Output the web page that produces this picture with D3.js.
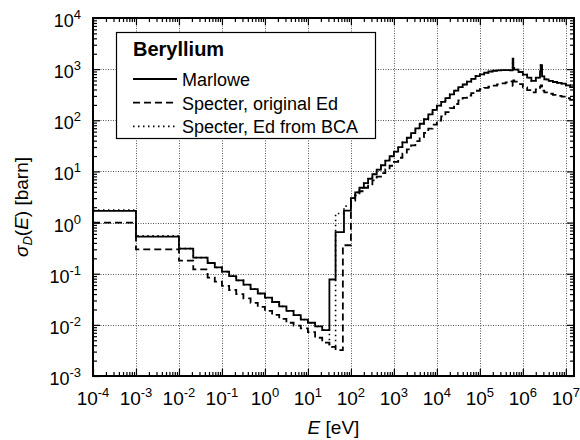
<!DOCTYPE html>
<html>
<head>
<meta charset="utf-8">
<script src="https://cdn.jsdelivr.net/npm/d3@7/dist/d3.min.js"></script>
<style>
    body { margin: 0; background: #fff; }
    svg { font-family: "Liberation Sans", Arial, sans-serif; }
</style>
</head>
<body>
<svg id="svgBeryllium" width="580" height="440"></svg>
<script>
// bin edges in eV, below the threshold (shared by all three curves)
var lowEdges = [1e-4, 1e-3, 1e-2, 0.0215, 0.0464, 0.0681, 0.1, 0.147, 0.215, 0.316, 0.464,
    0.681, 1, 1.47, 2.15, 3.16, 4.64, 6.81, 10, 14.7, 21.5, 31.6];
// bin edges in eV, from 100 eV upwards
var highEdges = [100, 126, 158, 200, 251, 316, 398, 501, 631, 794,
    1000, 1260, 1580, 2000, 2510, 3160, 3980, 5010, 6310, 7940,
    1e4, 1.26e4, 1.58e4, 2e4, 2.51e4, 3.16e4, 3.98e4, 5.01e4, 6.31e4, 7.94e4,
    1e5, 1.26e5, 1.58e5, 2e5, 2.51e5, 3.16e5, 3.98e5, 5.01e5, 5.8e5, 6.0e5,
    6.31e5, 7.94e5, 1e6, 1.26e6, 1.58e6, 2e6, 2.51e6, 2.6e6, 2.8e6, 3.16e6,
    3.98e6, 5.01e6, 6.31e6, 7.94e6, 1e7, 1.26e7, 1.6e7];

// Marlowe
var marloweLow = [1.7, 0.53, 0.31, 0.206, 0.162, 0.133, 0.110, 0.090, 0.074, 0.061, 0.050,
    0.041, 0.034, 0.028, 0.023, 0.0188, 0.0155, 0.0127, 0.011, 0.0093, 0.0079];
var marloweKneeEdges = [44, 69];
var marloweKnee = [0.077, 0.65, 1.72];
var marloweHigh = [3.0, 3.9, 4.8, 5.9, 7.2, 8.8, 10.8, 13.2, 16.2, 19.8,
    24.3, 30.0, 37.0, 45.6, 56.2, 69.3, 85.5, 105, 130, 160,
    194, 229, 272, 322, 381, 447, 501, 569, 646, 730,
    790, 850, 900, 930, 950, 955, 955, 950, 1600, 1050,
    980, 880, 780, 680, 590, 680, 900, 1200, 720, 630,
    590, 560, 540, 520, 480, 445];

// Specter, original Ed
var specterLow = [1.0, 0.30, 0.18, 0.122, 0.084, 0.070, 0.058, 0.048, 0.040, 0.033, 0.027,
    0.0225, 0.0188, 0.0157, 0.0131, 0.0110, 0.0097, 0.0085, 0.0072, 0.0056, 0.0045];
var specterKneeEdges = [44, 65];
var specterKnee = [0.0037, 0.0032, 0.36];
var specterHigh = [2.7, 3.4, 4.1, 4.8, 5.6, 6.7, 7.9, 9.3, 10.9, 12.9,
    15.4, 18.5, 22.3, 26.9, 32.4, 39.1, 47.1, 56.8, 68.4, 82.4,
    99, 119, 144, 173, 208, 245, 274, 305, 340, 378,
    408, 430, 453, 477, 502, 525, 550, 575, 470, 600,
    570, 510, 440, 390, 350, 400, 450, 480, 380, 350,
    330, 315, 300, 290, 270, 250];

// Specter, Ed from BCA (same as Marlowe above 100 eV)
var bcaLow = [1.75, 0.55, 0.31, 0.206, 0.162, 0.133, 0.110, 0.090, 0.074, 0.061, 0.050,
    0.041, 0.034, 0.028, 0.023, 0.0188, 0.0155, 0.0127, 0.011, 0.0093, 0.0079];
var bcaKneeEdges = [44, 69];
var bcaKnee = [0.0037, 1.5, 2.1];
var bcaHigh = marloweHigh;

var legendNames = ["Marlowe", "Specter, original Ed", "Specter, Ed from BCA"];
var xDecades = [-4, -3, -2, -1, 0, 1, 2, 3, 4, 5, 6, 7];
var yDecades = [-3, -2, -1, 0, 1, 2, 3, 4];

function stepPoints(knee, kneeVals, low, high) {
    var edges = lowEdges.concat(knee, highEdges);
    var vals = low.concat(kneeVals, high);
    var pts = vals.map(function (v, i) { return [edges[i], v]; });
    pts.push([edges[vals.length], vals[vals.length - 1]]);
    return pts;
}

/**
 * Beryllium displacement cross section
 */
function createBerylliumChart() {
    var svg = d3.select("#svgBeryllium"),
        margin = {top: 18, right: 6, bottom: 64, left: 93},
        width = svg.attr("width") - margin.left - margin.right,
        height = svg.attr("height") - margin.top - margin.bottom,
        g = svg.append("g").attr("transform", "translate(" + margin.left + "," + margin.top + ")");

    var x = d3.scaleLog()
        .domain([1e-4, 1.55e7])
        .range([0, width]);

    var y = d3.scaleLog()
        .domain([1e-3, 1e4])
        .range([height, 0]);

    var minorX = [], minorY = [];
    xDecades.forEach(function (d) {
        for (var k = 2; k < 10; k++) {
            var v = k * Math.pow(10, d);
            if (v < x.domain()[1]) minorX.push(v);
        }
    });
    yDecades.slice(0, -1).forEach(function (d) {
        for (var k = 2; k < 10; k++) minorY.push(k * Math.pow(10, d));
    });
    var majorX = xDecades.map(function (d) { return Math.pow(10, d); });
    var majorY = yDecades.map(function (d) { return Math.pow(10, d); });

    // grid
    var grid = g.append("g").attr("class", "grid")
        .attr("stroke", "#555").attr("stroke-width", 1).attr("stroke-dasharray", "1,1.5");
    grid.selectAll("line.gx")
        .data(majorX.slice(1))
        .enter().append("line")
        .attr("x1", function (d) { return Math.round(x(d)) + 0.5; })
        .attr("x2", function (d) { return Math.round(x(d)) + 0.5; })
        .attr("y1", 0).attr("y2", height);
    grid.selectAll("line.gy")
        .data(majorY.slice(1, -1))
        .enter().append("line")
        .attr("y1", function (d) { return Math.round(y(d)) + 0.5; })
        .attr("y2", function (d) { return Math.round(y(d)) + 0.5; })
        .attr("x1", 0).attr("x2", width);

    // inward ticks on all four sides
    function ticks(axis, vals, size, transform) {
        g.append("g")
            .attr("transform", transform)
            .call(axis.tickValues(vals).tickSize(size).tickFormat(""))
            .call(function (s) {
                s.select(".domain").remove();
                s.selectAll("line").attr("stroke", "#000").attr("stroke-width", 1.2);
            });
    }
    ticks(d3.axisBottom(x), minorX, -4, "translate(0," + height + ")");
    ticks(d3.axisBottom(x), majorX, -7, "translate(0," + height + ")");
    ticks(d3.axisTop(x), minorX, -4, "translate(0,0)");
    ticks(d3.axisTop(x), majorX, -7, "translate(0,0)");
    ticks(d3.axisLeft(y), minorY, -4, "translate(0,0)");
    ticks(d3.axisLeft(y), majorY, -7, "translate(0,0)");
    ticks(d3.axisRight(y), minorY, -4, "translate(" + width + ",0)");
    ticks(d3.axisRight(y), majorY, -7, "translate(" + width + ",0)");

    // tick labels 10^n
    var xl = g.append("g").selectAll("text")
        .data(xDecades)
        .enter().append("text")
        .attr("x", function (d) { return x(Math.pow(10, d)); })
        .attr("y", height + 29)
        .attr("text-anchor", "middle")
        .attr("font-size", 19);
    xl.append("tspan").text("10");
    xl.append("tspan").attr("dy", -8).attr("font-size", 13).text(function (d) { return d; });

    var yl = g.append("g").selectAll("text")
        .data(yDecades)
        .enter().append("text")
        .attr("x", -12)
        .attr("y", function (d) { return y(Math.pow(10, d)) + 9; })
        .attr("text-anchor", "end")
        .attr("font-size", 18);
    yl.append("tspan").text("10");
    yl.append("tspan").attr("dy", -8).attr("font-size", 13).text(function (d) { return d; });

    // axis titles
    var xt = svg.append("text")
        .attr("x", margin.left + width / 2)
        .attr("y", 434)
        .attr("text-anchor", "middle")
        .attr("font-size", 19);
    xt.append("tspan").attr("font-style", "italic").text("E");
    xt.append("tspan").text(" [eV]");

    var yt = svg.append("text")
        .attr("transform", "translate(28," + (margin.top + height / 2 + 10) + ") rotate(-90)")
        .attr("text-anchor", "middle")
        .attr("font-size", 19);
    yt.append("tspan").attr("font-style", "italic").text("σ");
    yt.append("tspan").attr("font-style", "italic").attr("font-size", 13).attr("dy", 4).text("D");
    yt.append("tspan").attr("dy", -4).text("(");
    yt.append("tspan").attr("font-style", "italic").text("E");
    yt.append("tspan").text(") [barn]");

    // curves
    g.append("defs").append("clipPath")
        .attr("id", "plotClip")
        .append("rect")
        .attr("width", width)
        .attr("height", height);

    var line = d3.line()
        .curve(d3.curveStepAfter)
        .x(function (d) { return x(d[0]); })
        .y(function (d) { return y(d[1]); });

    var series = [
        {pts: stepPoints(marloweKneeEdges, marloweKnee, marloweLow, marloweHigh), dash: null, w: 1.8},
        {pts: stepPoints(specterKneeEdges, specterKnee, specterLow, specterHigh), dash: "7,4", w: 1.8},
        {pts: stepPoints(bcaKneeEdges, bcaKnee, bcaLow, bcaHigh), dash: "1.5,3.5", w: 1.6}
    ];

    g.append("g")
        .attr("clip-path", "url(#plotClip)")
        .selectAll("path")
        .data(series)
        .enter().append("path")
        .attr("fill", "none")
        .attr("stroke", "#000")
        .attr("stroke-width", function (d) { return d.w; })
        .attr("stroke-dasharray", function (d) { return d.dash; })
        .attr("d", function (d) { return line(d.pts); });

    // frame
    g.append("rect")
        .attr("width", width)
        .attr("height", height)
        .attr("fill", "none")
        .attr("stroke", "#000")
        .attr("stroke-width", 2);

    // legend
    var legend = svg.append("g").attr("transform", "translate(116,32)");
    legend.append("rect")
        .attr("x", 0.5).attr("y", 0.5)
        .attr("width", 259).attr("height", 106)
        .attr("fill", "#fff")
        .attr("stroke", "#000")
        .attr("stroke-width", 1.2);
    legend.append("text")
        .attr("x", 17).attr("y", 24)
        .attr("font-size", 20)
        .attr("font-weight", "bold")
        .text("Beryllium");
    var items = legend.selectAll("g.item")
        .data(legendNames)
        .enter().append("g")
        .attr("class", "item")
        .attr("transform", function (d, i) { return "translate(0," + (47 + i * 23.7) + ")"; });
    items.append("line")
        .attr("x1", 17).attr("x2", 61)
        .attr("stroke", "#000")
        .attr("stroke-width", function (d, i) { return series[i].w; })
        .attr("stroke-dasharray", function (d, i) { return series[i].dash; });
    items.append("text")
        .attr("x", 66).attr("y", 7)
        .attr("font-size", 18)
        .text(function (d) { return d; });
}

createBerylliumChart();
</script>
</body>
</html>
